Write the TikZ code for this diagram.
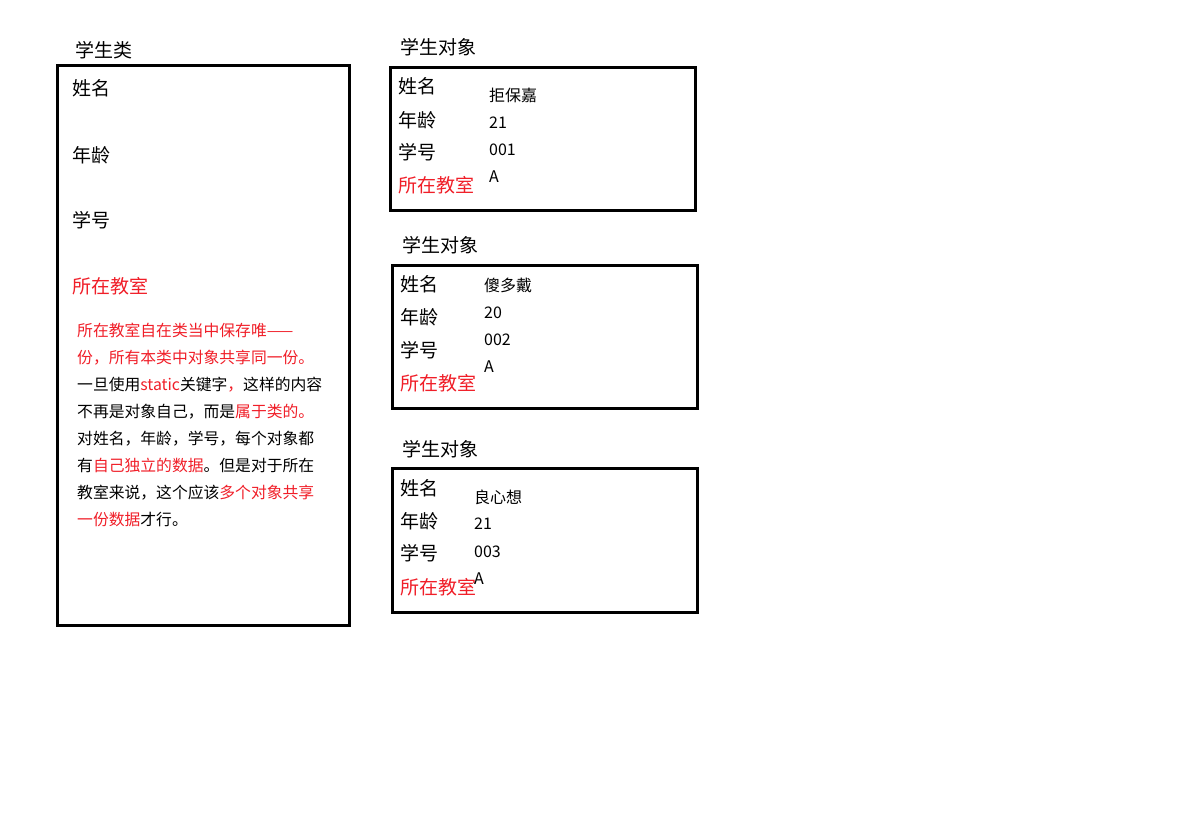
\documentclass[tikz,border=0pt]{standalone}
\usepackage{fontspec}
\setmainfont{Noto Sans CJK SC}
\usepackage{xcolor}
\usetikzlibrary{positioning}
\definecolor{StaticRed}{RGB}{240,30,40}

\begin{document}
\begin{tikzpicture}[x=1pt, y=-1pt,
    % khung
    box/.style={draw=black, line width=3pt},
    % chu
    boxtitle/.style={anchor=base west, inner sep=0pt, font=\fontsize{19}{22}\selectfont},
    field/.style={anchor=base west, inner sep=0pt, font=\fontsize{19}{22}\selectfont},
    redfield/.style={field, text=StaticRed},
    fieldval/.style={anchor=base west, inner sep=0pt, font=\fontsize{16}{18}\selectfont},
    note/.style={anchor=base west, inner sep=0pt, text width=265pt, align=left, font=\fontsize{15.8}{27}\selectfont}
]
    \useasboundingbox (0,0) rectangle (1191,820);

    % --- LOP HOC SINH ---
    \draw[box] (57,65) rectangle (349,625);
    \node[boxtitle] (classtitle) at (75,57) {学生类};
    \node[field] (cname) at (72,95) {姓名};
    \node[field] (cage) at (72,162) {年龄};
    \node[field] (cid) at (72,227) {学号};
    \node[redfield] (croom) at (72,293) {所在教室};
    \node[note] (cnote) at (77,336) {%
        \textcolor{StaticRed}{所在教室自在类当中保存唯——}\\
        \textcolor{StaticRed}{份，所有本类中对象共享同一份。}\\
        一旦使用\textcolor{StaticRed}{static}关键字\textcolor{StaticRed}{，}这样的内容\\
        不再是对象自己，而是\textcolor{StaticRed}{属于类的。}\\
        对姓名，年龄，学号，每个对象都\\
        有\textcolor{StaticRed}{自己独立的数据}。但是对于所在\\
        教室来说，这个应该\textcolor{StaticRed}{多个对象共享}\\
        \textcolor{StaticRed}{一份数据}才行。};

    % --- DOI TUONG 1 ---
    \draw[box] (390,67) rectangle (695,210);
    \node[boxtitle] (obja) at (400,54) {学生对象};
    \node[field] (aname) at (398,93) {姓名};
    \node[field] (aage) at (398,127) {年龄};
    \node[field] (aid) at (398,159) {学号};
    \node[redfield] (aroom) at (398,192) {所在教室};
    \node[fieldval] (anameval) at (489,101) {拒保嘉};
    \node[fieldval] (aageval) at (489,128) {21};
    \node[fieldval] (aidval) at (489,155) {001};
    \node[fieldval] (aroomval) at (489,182) {A};

    % --- DOI TUONG 2 ---
    \draw[box] (392,265) rectangle (697,408);
    \node[boxtitle] (objb) at (402,252) {学生对象};
    \node[field] (bname) at (400,291) {姓名};
    \node[field] (bage) at (400,324) {年龄};
    \node[field] (bid) at (400,357) {学号};
    \node[redfield] (broom) at (400,390) {所在教室};
    \node[fieldval] (bnameval) at (484,291) {傻多戴};
    \node[fieldval] (bageval) at (484,318) {20};
    \node[fieldval] (bidval) at (484,345) {002};
    \node[fieldval] (broomval) at (484,372) {A};

    % --- DOI TUONG 3 ---
    \draw[box] (392,468) rectangle (697,612);
    \node[boxtitle] (objc) at (402,456) {学生对象};
    \node[field] (cname3) at (400,495) {姓名};
    \node[field] (cage3) at (400,528) {年龄};
    \node[field] (cid3) at (400,560) {学号};
    \node[redfield] (croom3) at (400,594) {所在教室};
    \node[fieldval] (cnameval) at (474,503) {良心想};
    \node[fieldval] (cageval) at (474,529) {21};
    \node[fieldval] (cidval) at (474,557) {003};
    \node[fieldval] (croomval) at (474,584) {A};

\end{tikzpicture}
\end{document}
